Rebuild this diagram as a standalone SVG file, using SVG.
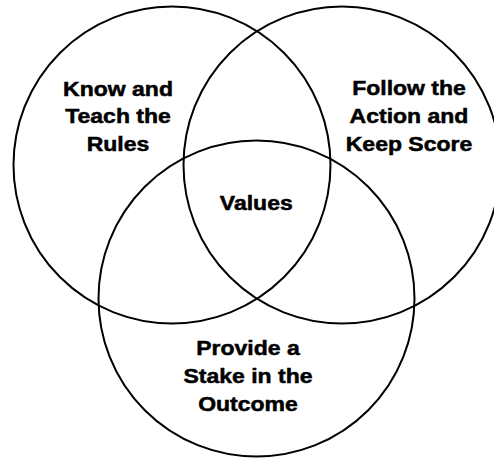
<svg xmlns="http://www.w3.org/2000/svg" width="494" height="459" viewBox="0 0 494 459">
  <style>
    .ring { fill: none; stroke: #000; stroke-width: 2; }
    .label { font-family: "Liberation Sans", Arial, sans-serif; font-weight: bold; font-size: 20px; fill: #000; stroke: #000; stroke-width: 0.5; text-anchor: middle; }
  </style>
  <rect width="494" height="459" fill="#fff"/>
  <g id="rules">
    <circle class="ring" cx="172" cy="165" r="158.5"/>
    <text class="label" transform="translate(118,0) scale(1.15,1)"><tspan x="0" y="96">Know and</tspan><tspan x="0" y="123.5">Teach the</tspan><tspan x="0" y="151.5">Rules</tspan></text>
  </g>
  <g id="action">
    <circle class="ring" cx="342" cy="165" r="158.5"/>
    <text class="label" transform="translate(409,0) scale(1.15,1)"><tspan x="0" y="95.5">Follow the</tspan><tspan x="0" y="123.5">Action and</tspan><tspan x="0" y="151.5">Keep Score</tspan></text>
  </g>
  <g id="stake">
    <circle class="ring" cx="256.5" cy="298.5" r="158"/>
    <text class="label" transform="translate(248,0) scale(1.15,1)"><tspan x="0" y="355.5">Provide a</tspan><tspan x="0" y="383.5">Stake in the</tspan><tspan x="0" y="411.5">Outcome</tspan></text>
  </g>
  <g id="values">
    <text class="label" transform="translate(256.3,0) scale(1.15,1)"><tspan x="0" y="210">Values</tspan></text>
  </g>
</svg>
